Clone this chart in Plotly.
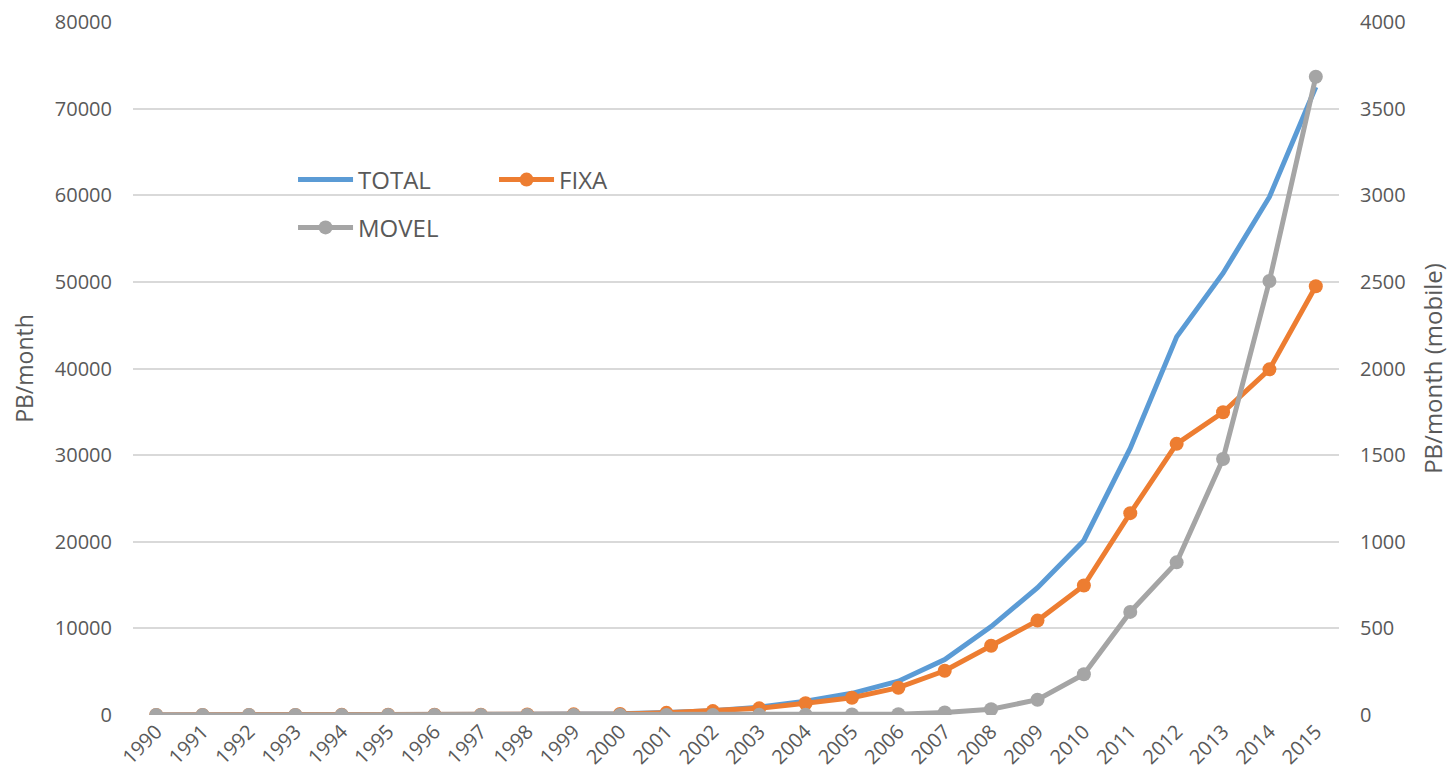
import plotly.graph_objects as go

years = [str(y) for y in range(1990, 2016)]
total = [5, 7, 10, 13, 17, 22, 30, 40, 55, 80, 130, 300, 500, 900, 1600, 2500, 3900, 6400, 10200, 14700, 20150, 30800, 43650, 51000, 59800, 72500]
fixa = [5, 7, 10, 13, 17, 22, 30, 40, 55, 75, 120, 250, 450, 770, 1350, 2000, 3150, 5100, 8000, 10900, 14950, 23300, 31300, 34950, 39900, 49500]
movel = [0, 0, 0, 0, 0, 0, 0, 0, 0, 0, 0, 0, 0.5, 1, 1.5, 2.5, 5, 15, 33, 88, 235, 595, 881, 1478, 2505, 3684]

font_fam = "Open Sans, Liberation Sans, sans-serif"
txt = "#595959"

fig = go.Figure()
fig.add_trace(go.Scatter(x=years, y=total, name="TOTAL", mode="lines",
                         line=dict(color="#5B9BD5", width=5), legend="legend"))
fig.add_trace(go.Scatter(x=years, y=fixa, name="FIXA", mode="lines+markers",
                         line=dict(color="#ED7D31", width=5), marker=dict(size=14, color="#ED7D31"),
                         legend="legend"))
fig.add_trace(go.Scatter(x=years, y=movel, name="MOVEL", mode="lines+markers", yaxis="y2",
                         line=dict(color="#A5A5A5", width=5), marker=dict(size=14, color="#A5A5A5"),
                         legend="legend2"))

fig.update_layout(
    width=1448, height=773,
    margin=dict(l=125, r=117, t=14, b=66, autoexpand=False),
    paper_bgcolor="white", plot_bgcolor="white",
    font=dict(family=font_fam, color=txt, size=20),
    showlegend=True,
    xaxis=dict(type="category", range=[-0.5, 25.5], tickangle=-45, showgrid=False,
               showline=False, zeroline=False, automargin=False,
               tickfont=dict(size=20, color=txt)),
    yaxis=dict(range=[0, 80000], dtick=10000, tickformat="d", showgrid=True,
               gridcolor="#D9D9D9", gridwidth=1.5, automargin=False,
               zeroline=False, showline=False, ticklabelstandoff=20,
               title=dict(text="PB/month", font=dict(size=23, color=txt), standoff=16),
               tickfont=dict(size=20, color=txt)),
    yaxis2=dict(range=[0, 4000], dtick=500, tickformat="d", overlaying="y", side="right",
                showgrid=False, automargin=False,
                zeroline=False, showline=False, ticklabelstandoff=20,
                title=dict(text="PB/month (mobile)", font=dict(size=24, color=txt), standoff=20),
                tickfont=dict(size=20, color=txt)),
    legend=dict(orientation="h", x=0.1327, y=0.772, xanchor="left", yanchor="middle",
                bgcolor="rgba(0,0,0,0)", font=dict(size=24, color=txt),
                entrywidth=131, entrywidthmode="pixels", itemwidth=55),
    legend2=dict(orientation="h", x=0.1327, y=0.703, xanchor="left", yanchor="middle",
                 bgcolor="rgba(0,0,0,0)", font=dict(size=24, color=txt), itemwidth=55),
)

fig.write_html("out.html")
